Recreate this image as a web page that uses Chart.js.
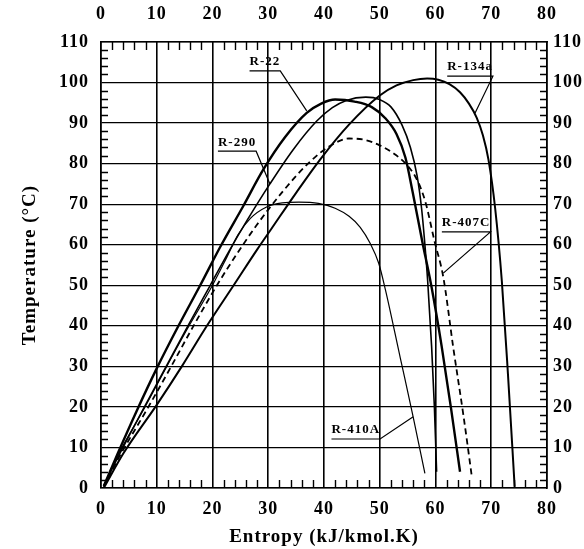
<!DOCTYPE html>
<html><head><meta charset="utf-8">
<script src="https://cdn.jsdelivr.net/npm/chart.js@4/dist/chart.umd.min.js"></script>
<style>html,body{margin:0;padding:0;background:#fff}#wrap{width:584px;height:549px}</style>
</head><body><div id="wrap"><canvas id="c" width="584" height="549"></canvas></div>
<script>
// ---- data (entropy kJ/kmol.K vs temperature °C) ----
const xTickValues = [0,10,20,30,40,50,60,70,80];
const yTickValues = [0,10,20,30,40,50,60,70,80,90,100,110];

const r22X = [0.5,3,6.4,10,13.9,17.8,21.4,25.5,29.1,33,36.9,39.5,42,45.5,48.5,51,53,54.6,55.9,57.6,59.3,61.1,62.8,64.4];
const r22Y = [0.5,8.5,19,29.5,40,50,59.5,69.5,78.5,86.5,92.5,94.8,95.8,95.3,94,91.2,87.3,81.5,73,61,49.5,35,19.5,4];

const r290X = [0.5,3,7.6,11.5,15.4,19.6,23,26.2,30.3,34.5,38.7,41.5,44,47.5,50,52,54,55.5,56.7,57.5,58.1,58.6,59.3,59.8,60.2];
const r290Y = [0.5,7.5,19.5,29.5,39.5,50,58.5,66,75,83.5,90.5,93.8,95.6,96.4,95.8,94,89.5,84,77,69,60,51,35,20,4];

const r410aX = [0.5,3,7.9,11.8,15.8,20,22.6,24.6,26.8,29.7,32.5,35.5,39,42,44.5,46.5,48.3,49.8,51,53.7,56,58.1];
const r410aY = [0.5,8,20,30,40,50,57,62.5,66.5,69.3,70.3,70.5,70.2,69,67,64.3,60.3,55.5,49,32,17.5,3.6];

const r407cX = [0.5,3,8.5,12.6,16.6,20.8,24.5,27.9,32.7,37.5,41,44.5,47.5,50,52.5,54.8,56.3,57.4,58.3,59.8,61.4,63.2,65,66.5];
const r407cY = [0.3,7,20,30,40,50,58,64.8,73.3,80.5,84.3,86.2,85.8,84.5,82.5,79.8,77,73.8,70,61,52,34.5,18,3];

const r134aX = [0.5,4,10,14.5,19,23.8,28,30.6,35,39.3,44.4,50,53,56,58.5,60.5,62.5,64.4,66,67.4,68.5,69.5,70.7,71.9,73,74.2];
const r134aY = [0,8.5,20.5,30,40,50,58.8,64,72.8,81,89.5,96.8,99.3,100.6,101,100.7,99.6,97.6,94.8,91.3,87,81,69,51,28,0.3];

// curve labels: text, text centre (data units), leader end point on curve (data units)
const labelNames = ['R-22','R-290','R-134a','R-407C','R-410A'];
const labelCentreX = [29.4,24.4,66.2,65.5,45.7];
const labelCentreY = [105.1,85.3,103.8,65.4,14.3];
const leaderEndX = [36.9,30.3,67.1,61.4,56.0];
const leaderEndY = [93.0,75.0,92.5,53.0,17.6];

const FONT = '"Liberation Serif","Times New Roman",serif';

function pts(xs, ys){ return xs.map((x,i)=>({x:x,y:ys[i]})); }

function ds(label, xs, ys, width, dash){
  return {label, data: pts(xs,ys), showLine:true, borderColor:'#000', borderWidth:width,
    borderDash: dash||[], pointRadius:0, cubicInterpolationMode:'monotone', fill:false};
}

const minorTicks = {
  id:'minorTicks',
  afterDraw(chart){
    const {ctx, chartArea:a, scales:{x,y}} = chart;
    ctx.save();
    ctx.strokeStyle='#000'; ctx.lineWidth=1.4;
    ctx.beginPath();
    for(let v=0; v<=80; v+=2){ if(v%10===0) continue;
      const px = Math.round(x.getPixelForValue(v))+0.5;
      ctx.moveTo(px,a.bottom); ctx.lineTo(px,a.bottom-8);
      ctx.moveTo(px,a.top); ctx.lineTo(px,a.top+8);
    }
    for(let v=0; v<=110; v+=2){ if(v%10===0) continue;
      const py = Math.round(y.getPixelForValue(v))+0.5;
      ctx.moveTo(a.left,py); ctx.lineTo(a.left+7,py);
      ctx.moveTo(a.right,py); ctx.lineTo(a.right-7,py);
    }
    ctx.stroke();
    ctx.restore();
  }
};

const curveLabels = {
  id:'curveLabels',
  afterDraw(chart){
    const {ctx, scales:{x,y}} = chart;
    ctx.save();
    ctx.font = 'bold 13px '+FONT;
    ctx.letterSpacing = '1px';
    ctx.fillStyle='#000'; ctx.strokeStyle='#000';
    ctx.textAlign='center'; ctx.textBaseline='middle';
    labelNames.forEach((t,i)=>{
      const cx = x.getPixelForValue(labelCentreX[i]);
      const cy = y.getPixelForValue(labelCentreY[i]);
      ctx.fillText(t, cx, cy);
      const w = ctx.measureText(t).width;
      const uy = cy + 9;
      ctx.lineWidth=1.2;
      ctx.beginPath();
      ctx.moveTo(cx - w/2, uy); ctx.lineTo(cx + w/2, uy);
      ctx.lineTo(x.getPixelForValue(leaderEndX[i]), y.getPixelForValue(leaderEndY[i]));
      ctx.stroke();
    });
    ctx.restore();
  }
};

const spacing = {
  id:'spacing',
  beforeDraw(chart){ chart.ctx.letterSpacing='1px'; }
};

const tickFont = {family:FONT, size:18, weight:'bold'};

new Chart(document.getElementById('c'), {
  type:'scatter',
  data:{datasets:[
    ds('R-22', r22X, r22Y, 2.4),
    ds('R-290', r290X, r290Y, 1.6),
    ds('R-410A', r410aX, r410aY, 1.2),
    ds('R-407C', r407cX, r407cY, 1.8, [6,4]),
    ds('R-134a', r134aX, r134aY, 2.0)
  ]},
  options:{
    responsive:false, animation:false, devicePixelRatio:1,
    layout:{padding:0},
    plugins:{legend:{display:false}, tooltip:{enabled:false}},
    scales:{
      x:{type:'linear', position:'bottom', min:0, max:80,
        afterBuildTicks(s){ s.ticks = xTickValues.map(v=>({value:v})); },
        afterFit(s){ s.height = 61; },
        ticks:{color:'#000', font:tickFont, padding:11, maxRotation:0},
        grid:{color:'#000', lineWidth:1.6, drawTicks:false},
        border:{color:'#000', width:1.6},
        title:{display:true, text:'Entropy (kJ/kmol.K)', color:'#000',
          font:{family:FONT, size:19, weight:'bold'}, padding:{top:0,bottom:1}}
      },
      x2:{type:'linear', position:'top', min:0, max:80,
        afterBuildTicks(s){ s.ticks = xTickValues.map(v=>({value:v})); },
        afterFit(s){ s.height = 42; },
        ticks:{color:'#000', font:tickFont, padding:17, maxRotation:0},
        grid:{display:false, drawTicks:false},
        border:{display:true, color:'#000', width:1.6}
      },
      y:{type:'linear', position:'left', min:0, max:110,
        afterBuildTicks(s){ s.ticks = yTickValues.map(v=>({value:v})); },
        afterFit(s){ s.width = 101; },
        ticks:{color:'#000', font:tickFont, padding:12},
        grid:{color:'#000', lineWidth:1.3, drawTicks:false},
        border:{color:'#000', width:1.6},
        title:{display:true, text:'Temperature (°C)', color:'#000',
          font:{family:FONT, size:19, weight:'bold'}, padding:{top:19,bottom:0}}
      },
      y2:{type:'linear', position:'right', min:0, max:110,
        afterBuildTicks(s){ s.ticks = yTickValues.map(v=>({value:v})); },
        afterFit(s){ s.width = 37; },
        ticks:{color:'#000', font:tickFont, padding:6},
        grid:{display:false, drawTicks:false},
        border:{display:true, color:'#000', width:1.6}
      }
    }
  },
  plugins:[spacing, minorTicks, curveLabels]
});
</script>
</body></html>
